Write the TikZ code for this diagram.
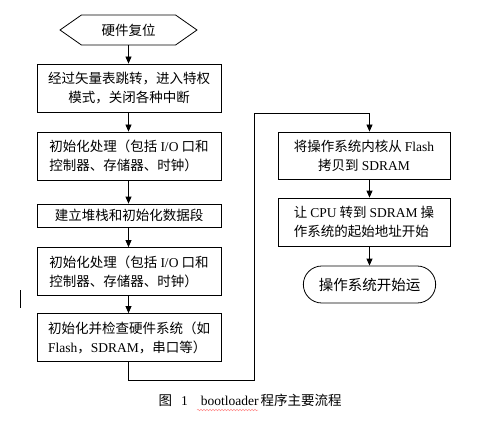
\documentclass[tikz,border=0pt]{standalone}
\usepackage{fontspec}
\setmainfont{Noto Sans CJK SC}
\newfontfamily\latin{Liberation Serif}
\usetikzlibrary{arrows.meta,shapes.symbols,shapes.misc,decorations.pathmorphing}

\tikzset{
  stepbox/.style={draw, line width=0.8pt, minimum width=184pt, minimum height=48pt,
    inner sep=2pt, align=center, font=\fontsize{13.5}{19}\selectfont},
  arr/.style={line width=0.8pt, -{Triangle[width=6pt,length=7pt]}},
}

\begin{document}
\begin{tikzpicture}[x=1pt,y=-1pt]
  % ===== Parameters =====
  \def\leftx{129}
  \def\rightx{364}
  \def\loopx{254}

  \useasboundingbox (0,0) rectangle (502,422);

  % ===== Left column =====
  \node[draw, line width=0.8pt, signal, signal to=west and east, signal pointer angle=70,
        minimum width=137pt, minimum height=30pt, inner sep=1pt,
        font=\fontsize{13.5}{19}\selectfont] (hex) at (128.5,30) {硬件复位};
  \node[stepbox] (box1) at (\leftx,88) {经过矢量表跳转，进入特权\\模式，关闭各种中断};
  \node[stepbox,align=left] (box2) at (\leftx,156) {初始化处理（包括 {\latin I/O} 口和\\控制器、存储器、时钟）};
  \node[stepbox,minimum height=23pt] (box3) at (\leftx,215.5) {建立堆栈和初始化数据段};
  \node[stepbox,align=left] (box4) at (\leftx,271.5) {初始化处理（包括 {\latin I/O} 口和\\控制器、存储器、时钟）};
  \node[stepbox,align=left] (box5) at (\leftx,337.5) {初始化并检查硬件系统（如\\{\latin Flash}，{\latin SDRAM}，串口等）};

  % ===== Right column =====
  \node[stepbox,minimum width=172pt,minimum height=47pt] (box6) at (\rightx,155.5) {将操作系统内核从 {\latin Flash}\\拷贝到 {\latin SDRAM}};
  \node[stepbox,minimum width=172pt,align=left] (box7) at (\rightx,222) {让 {\latin CPU} 转到 {\latin SDRAM} 操\\作系统的起始地址开始};
  \node[draw, line width=0.8pt, rounded rectangle, minimum width=139pt, minimum height=37pt,
        font=\fontsize{14.5}{19}\selectfont] (term) at (369.5,284.5) {操作系统开始运};

  % ===== Arrows =====
  \draw[arr] (hex.south) -- (box1.north -| hex);
  \foreach \a/\b in {box1/box2, box2/box3, box3/box4, box4/box5}{
    \draw[arr] (\a.south -| hex) -- (\b.north -| hex);
  }
  \coordinate (loopB) at (\loopx,380);
  \coordinate (loopT) at (\loopx,113);
  \draw[arr] (box5.south -| hex) |- (loopB) -- (loopT) -| (box6.north -| term);
  \draw[arr] (box6.south -| term) -- (box7.north -| term);
  \draw[arr] (box7.south -| term) -- (term.north);

  % ===== Caption =====
  \node[font=\fontsize{13.5}{19}\selectfont, anchor=base west] (caption) at (155,405)
       {图\hspace{9pt}{\latin 1}\hspace{13pt}{\latin bootloader}\hspace{2pt}程序主要流程};
  \draw[red!45, line width=0.5pt, decorate, decoration={snake,amplitude=0.8pt,segment length=3pt}]
       (197,410) -- (258,410);

  % stray bar at the left
  \draw[line width=1.6pt] (20.5,290) -- (20.5,308);
\end{tikzpicture}
\end{document}
